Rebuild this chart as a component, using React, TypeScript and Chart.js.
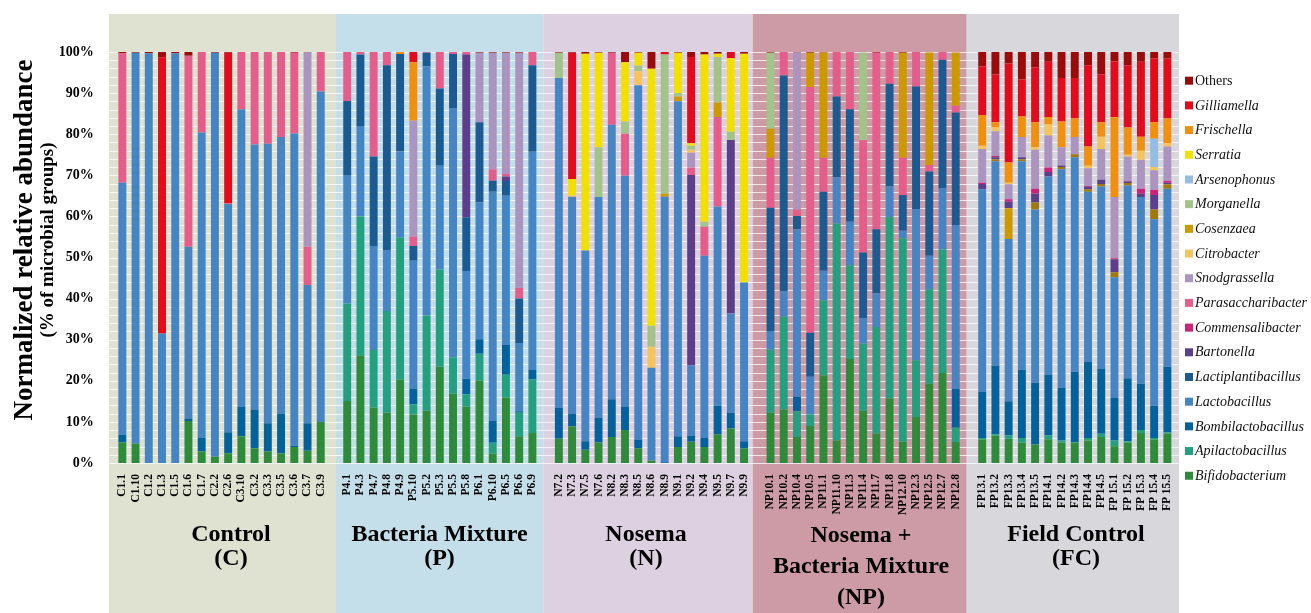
import React, { useEffect, useRef } from 'react';
import { Chart, registerables } from 'chart.js';

Chart.register(...registerables);

const SERIF = "'Liberation Serif', 'Times New Roman', serif";

// ---------- categories ----------
const controlSamples = ['C1.1', 'C1.10', 'C1.2', 'C1.3', 'C1.5', 'C1.6', 'C1.7', 'C2.2', 'C2.6', 'C3.10', 'C3.2', 'C3.3', 'C3.5', 'C3.6', 'C3.7', 'C3.9'];
const bacteriaSamples = ['P4.1', 'P4.3', 'P4.7', 'P4.8', 'P4.9', 'P5.10', 'P5.2', 'P5.3', 'P5.5', 'P5.8', 'P6.1', 'P6.10', 'P6.5', 'P6.6', 'P6.9'];
const nosemaSamples = ['N7.2', 'N7.3', 'N7.5', 'N7.6', 'N8.2', 'N8.3', 'N8.5', 'N8.6', 'N8.9', 'N9.1', 'N9.2', 'N9.4', 'N9.5', 'N9.7', 'N9.9'];
const npSamples = ['NP10.1', 'NP10.2', 'NP10.4', 'NP10.5', 'NP11.1', 'NP11.10', 'NP11.3', 'NP11.4', 'NP11.7', 'NP11.8', 'NP12.10', 'NP12.3', 'NP12.5', 'NP12.7', 'NP12.8'];
const fcSamples = ['FP13.1', 'FP13.2', 'FP13.3', 'FP13.4', 'FP13.5', 'FP14.1', 'FP14.2', 'FP14.3', 'FP14.4', 'FP14.5', 'FP 15.1', 'FP 15.2', 'FP 15.3', 'FP 15.4', 'FP 15.5'];

const groupTitles = [
  ['Control', '(C)'],
  ['Bacteria Mixture', '(P)'],
  ['Nosema', '(N)'],
  ['Nosema +', 'Bacteria Mixture', '(NP)'],
  ['Field Control', '(FC)'],
];

const yTicks = [0, 10, 20, 30, 40, 50, 60, 70, 80, 90, 100];

// ---------- series values (% per sample; order C | P | N | NP | FC) ----------
const bifidobacterium = [
  5.0, 4.7, 0, 0, 0, 10.2, 2.8, 1.5, 2.4, 6.5, 3.6, 2.8, 2.3, 3.9, 3.0, 10.0,
  15.1, 26.2, 13.5, 12.3, 20.3, 11.8, 12.7, 23.4, 16.9, 13.7, 20.1, 2.3, 15.9, 6.5, 7.3,
  5.9, 8.9, 3.2, 5.0, 6.3, 8.0, 3.6, 0.6, 0, 3.9, 5.2, 3.9, 7.0, 8.4, 3.5,
  12.2, 13.0, 6.3, 9.0, 21.3, 5.5, 25.3, 12.7, 7.1, 15.7, 5.2, 11.2, 19.3, 21.9, 5.1,
  5.7, 6.6, 5.9, 5.0, 4.5, 5.8, 5.0, 4.9, 5.5, 6.3, 4.1, 4.9, 7.3, 5.7, 7.1,
];
const apilactobacillus = [
  0, 0, 0, 0, 0, 0, 0, 0, 0, 0, 0, 0, 0, 0, 0, 0,
  23.7, 33.8, 14.0, 24.7, 34.6, 2.5, 23.2, 23.7, 8.8, 3.0, 6.5, 2.6, 5.6, 5.7, 13.0,
  0, 0, 0, 0, 0, 0, 0, 0, 0, 0, 0, 0, 0, 0, 0,
  15.4, 22.6, 6.3, 2.8, 18.3, 52.8, 22.8, 16.4, 26.0, 44.1, 49.5, 13.8, 23.0, 30.1, 3.5,
  0.4, 0.4, 0.8, 1.1, 0, 0.9, 0.5, 0.2, 0.6, 0.8, 1.4, 0.4, 0.7, 0.4, 0.3,
];
const bombilactobacillus = [
  1.8, 0, 0, 0, 0, 0.5, 3.4, 0, 5.1, 7.1, 9.4, 6.9, 9.6, 0.3, 6.7, 0,
  0, 0, 0, 0, 0, 3.8, 0, 0, 0, 3.8, 3.5, 5.3, 7.2, 0.4, 2.3,
  7.5, 3.1, 2.1, 6.0, 9.2, 5.6, 2.1, 0, 0.2, 2.6, 1.5, 2.2, 6.9, 3.8, 1.8,
  0, 0, 3.5, 0, 0, 0, 0, 0, 0, 0, 0, 0, 0, 0, 9.4,
  11.2, 16.7, 8.3, 16.6, 15.0, 14.8, 12.9, 17.1, 18.5, 15.9, 10.3, 15.3, 11.3, 7.8, 16.0,
];
const lactobacillus = [
  61.4, 95.1, 99.7, 31.5, 99.7, 41.9, 74.2, 98.3, 55.5, 72.5, 64.5, 68.0, 67.4, 76.0, 33.6, 80.4,
  31.3, 22.0, 25.3, 14.8, 20.9, 31.1, 60.6, 25.2, 60.7, 26.2, 33.3, 55.8, 36.3, 16.6, 53.1,
  80.3, 52.8, 46.4, 53.7, 66.8, 56.3, 86.2, 22.6, 64.6, 81.5, 17.1, 44.3, 48.5, 24.2, 38.6,
  4.5, 6.2, 40.8, 9.2, 7.2, 11.2, 10.6, 6.2, 8.2, 7.5, 1.8, 36.8, 8.1, 14.9, 39.9,
  49.3, 49.7, 39.5, 50.7, 42.2, 48.2, 53.1, 52.2, 41.4, 44.3, 29.4, 46.9, 45.4, 45.4, 43.3,
];
const lactiplantibacillus = [
  0, 0, 0, 0, 0, 0, 0, 0, 0, 0, 0, 0, 0, 0, 0, 0,
  18.0, 17.4, 21.8, 45.0, 23.7, 3.6, 3.3, 18.8, 13.1, 13.1, 19.5, 2.7, 3.6, 10.8, 21.1,
  0, 0, 0, 0, 0, 0, 0, 0, 0, 0, 0, 0, 0, 0, 0,
  30.0, 52.5, 3.2, 10.7, 19.2, 19.7, 27.4, 15.9, 15.6, 25.0, 8.7, 29.8, 20.5, 31.2, 27.4,
  0, 0, 0, 0, 0, 0, 0, 0, 0, 0, 0, 0, 0, 0, 0,
];
// Cosenzaea-coloured segment that the Field Control panel stacks right above Lactobacillus
const cosenzaeaFC = [
  0, 0, 0, 0, 0, 0, 0, 0, 0, 0, 0, 0, 0, 0, 0, 0,
  0, 0, 0, 0, 0, 0, 0, 0, 0, 0, 0, 0, 0, 0, 0,
  0, 0, 0, 0, 0, 0, 0, 0, 0, 0, 0, 0, 0, 0, 0,
  0, 0, 0, 0, 0, 0, 0, 0, 0, 0, 0, 0, 0, 0, 0,
  0, 0.5, 7.5, 0.5, 1.7, 0, 0.5, 0.7, 0.6, 0.6, 1.2, 0.6, 0, 2.4, 1.1,
];
const bartonella = [
  0, 0, 0, 0, 0, 0, 0, 0, 0, 0, 0, 0, 0, 0, 0, 0,
  0, 0, 0, 0, 0, 0, 0, 0, 0, 39.6, 0, 0, 1.1, 0, 0,
  0, 0, 0, 0, 0, 0, 0, 0, 0, 0, 46.3, 0, 0, 42.2, 0,
  0, 0, 0, 0, 0, 0, 0, 0, 0, 0, 0, 0, 0, 0, 0,
  1.3, 0.5, 1.6, 0.5, 2.2, 1.1, 0.4, 0, 0.6, 1.0, 3.2, 0.4, 0.8, 3.5, 0.4,
];
const commensalibacter = [
  0, 0, 0, 0, 0, 0, 0, 0, 0, 0, 0, 0, 0, 0, 0, 0,
  0, 0, 0, 0, 0, 0, 0, 0, 0, 0, 0, 0, 0, 0, 0,
  0, 0, 0, 0, 0, 0, 0, 0, 0, 0, 0, 0, 0, 0, 0,
  0, 0, 0, 0, 0, 0, 0, 0, 0, 0, 0, 0, 0, 0, 0,
  0.3, 0.3, 0.6, 0, 1.1, 1.1, 0, 0, 0.2, 0, 0.2, 0.2, 1.2, 1.2, 0.4,
];
const parasaccharibacter = [
  31.5, 0, 0, 0, 0, 46.5, 19.6, 0, 0.2, 13.9, 22.5, 22.3, 20.7, 19.6, 9.3, 9.6,
  11.9, 0.6, 25.4, 3.2, 0, 2.3, 0.2, 8.9, 0.5, 0.6, 0, 2.8, 0.6, 2.6, 3.2,
  0, 0, 0, 0, 17.5, 10.2, 0, 0, 0, 0, 1.8, 7.1, 21.8, 0, 0,
  12.2, 5.7, 1.5, 59.8, 8.3, 10.8, 13.9, 27.3, 42.9, 7.7, 9.1, 8.4, 1.6, 1.9, 1.6,
  0, 0, 0, 0, 0, 0, 0, 0, 0, 0, 0, 0, 0, 0, 0,
];
const snodgrassella = [
  0, 0, 0, 0, 0, 0, 0, 0, 0, 0, 0, 0, 0, 0, 47.3, 0,
  0, 0, 0, 0, 0, 28.2, 0, 0, 0, 0, 16.9, 28.3, 29.5, 57.2, 0,
  0, 0, 0, 0, 0, 0, 0, 0, 0, 0, 3.6, 0, 0, 0, 0,
  0, 0, 38.3, 0, 0, 0, 0, 0, 0, 0, 0, 0, 0, 0, 0,
  8.2, 6.0, 3.6, 4.9, 9.5, 7.8, 4.4, 4.2, 4.3, 7.5, 14.9, 5.9, 7.1, 4.8, 8.4,
];
const citrobacter = [
  0, 0, 0, 0, 0, 0, 0, 0, 0, 0, 0, 0, 0, 0, 0, 0,
  0, 0, 0, 0, 0, 0, 0, 0, 0, 0, 0, 0, 0, 0, 0,
  0, 0.3, 0, 0, 0, 0, 3.4, 5.1, 0, 0, 0.7, 0, 0, 0, 0,
  0, 0, 0, 0, 0, 0, 0, 0, 0, 0, 0, 0, 0, 0, 0,
  0.8, 0.9, 0.4, 0, 0.6, 2.8, 0, 0, 0.6, 3.0, 0, 0.4, 2.2, 0.8, 0.8,
];
const cosenzaea = [
  0, 0, 0, 0, 0, 0, 0, 0, 0, 0, 0, 0, 0, 0, 0, 0,
  0, 0, 0, 0, 0, 0, 0, 0, 0, 0, 0, 0, 0, 0, 0,
  0, 0, 0, 0, 0, 0, 0, 0, 0.7, 1.2, 0, 0, 3.5, 0, 0,
  7.0, 0, 0, 8.3, 25.6, 0, 0, 0, 0, 0, 25.5, 0, 27.4, 0, 13.0,
  0, 0, 0, 0, 0, 0, 0, 0, 0, 0, 0, 0, 0, 0, 0,
];
const morganella = [
  0, 0, 0, 0, 0, 0, 0, 0, 0, 0, 0, 0, 0, 0, 0, 0,
  0, 0, 0, 0, 0, 0, 0, 0, 0, 0, 0, 0, 0, 0, 0,
  6.1, 0, 0, 12.1, 0, 3.0, 1.4, 5.1, 33.9, 0.8, 1.0, 1.2, 11.1, 2.0, 0,
  18.5, 0, 0, 0, 0, 0, 0, 21.4, 0, 0, 0, 0, 0, 0, 0,
  0, 0, 0, 0, 0, 0, 0, 0, 0, 0, 0, 0, 0, 0, 0,
];
const arsenophonus = [
  0, 0, 0, 0, 0, 0, 0, 0, 0, 0, 0, 0, 0, 0, 0, 0,
  0, 0, 0, 0, 0, 0, 0, 0, 0, 0, 0, 0, 0, 0, 0,
  0, 0, 0, 0, 0, 0, 0, 0, 0, 0, 0, 0, 0, 0, 0,
  0, 0, 0, 0, 0, 0, 0, 0, 0, 0, 0, 0, 0, 0, 0,
  0, 0, 0, 0, 0, 0, 0, 0, 0, 0, 0, 0, 0, 6.9, 0,
];
const serratia = [
  0, 0, 0, 0, 0, 0, 0, 0, 0, 0, 0, 0, 0, 0, 0, 0,
  0, 0, 0, 0, 0, 0, 0, 0, 0, 0, 0, 0, 0, 0, 0,
  0, 4.0, 47.9, 23.0, 0, 14.4, 3.1, 62.5, 0, 9.8, 0.6, 40.7, 0.8, 17.9, 55.7,
  0, 0, 0, 0, 0, 0, 0, 0, 0, 0, 0, 0, 0, 0, 0,
  0, 0, 0, 0, 0, 0, 0, 0, 0, 0, 0, 0, 0, 0, 0,
];
const frischella = [
  0, 0, 0, 0, 0, 0, 0, 0, 0, 0, 0, 0, 0, 0, 0, 0,
  0, 0, 0, 0, 0.5, 14.2, 0, 0, 0, 0, 0, 0, 0, 0, 0,
  0, 0, 0, 0, 0, 0, 0, 0, 0, 0, 0, 0, 0, 0, 0,
  0, 0, 0, 0, 0, 0, 0, 0, 0, 0, 0, 0, 0, 0, 0,
  7.5, 1.3, 4.9, 5.0, 6.1, 1.7, 6.3, 4.5, 4.7, 3.5, 19.4, 6.6, 3.4, 4.0, 6.0,
];
const gilliamella = [
  0, 0, 0, 67.2, 0, 0, 0, 0, 36.6, 0, 0, 0, 0, 0, 0, 0,
  0, 0, 0, 0, 0, 2.5, 0, 0, 0, 0, 0, 0, 0, 0, 0,
  0, 30.7, 0, 0, 0, 0, 0, 0, 0.6, 0, 21.0, 0, 0, 1.5, 0,
  0, 0, 0, 0, 0, 0, 0, 0, 0, 0, 0, 0, 0, 0, 0,
  11.8, 11.6, 24.1, 9.0, 13.4, 13.4, 10.6, 9.9, 19.8, 11.7, 13.6, 15.2, 18.2, 15.6, 14.6,
];
const others = [
  0.3, 0.2, 0.3, 1.3, 0.3, 0.9, 0, 0.2, 0.2, 0, 0, 0, 0, 0.2, 0.1, 0,
  0, 0, 0, 0, 0, 0, 0, 0, 0, 0, 0.2, 0.2, 0.2, 0.2, 0,
  0.2, 0.2, 0.4, 0.2, 0.2, 2.5, 0.2, 4.1, 0, 0.2, 1.2, 0.6, 0.4, 0, 0.4,
  0.2, 0, 0.1, 0.2, 0.1, 0, 0, 0, 0.2, 0, 0.2, 0, 0, 0, 0,
  3.5, 5.5, 2.8, 6.7, 3.7, 2.4, 6.3, 6.3, 3.2, 5.4, 2.3, 3.2, 2.4, 1.5, 1.6,
];

// ---------- styling ----------
const groupSizes = [controlSamples.length, bacteriaSamples.length, nosemaSamples.length, npSamples.length, fcSamples.length];
const groupBounds = [109, 336, 543.3, 752.7, 966.7, 1179];
const groupColors = ['#dfe1d1', '#c5dfea', '#ddd0e1', '#cd9ba6', '#d8d8dc'];
const groupTitleX = [231, 439.5, 646, 861, 1076];
const groupTitleY = [[541, 565], [541, 565], [541, 565], [542, 573, 604], [541, 565]];

// insert an empty category between the treatment groups
function withGaps<T>(values: T[], gap: T): T[] {
  const out: T[] = [];
  let k = 0;
  groupSizes.forEach((n, g) => {
    if (g > 0) out.push(gap);
    for (let i = 0; i < n; i++) out.push(values[k++]);
  });
  return out;
}

const labels = withGaps([...controlSamples, ...bacteriaSamples, ...nosemaSamples, ...npSamples, ...fcSamples], '');

type Series = { label: string; data: number[]; color: any; legend: boolean; italic: boolean };
const series: Series[] = [
  { label: 'Bifidobacterium', data: bifidobacterium, color: '#2e8b3b', legend: true, italic: true },
  { label: 'Apilactobacillus', data: apilactobacillus, color: '#23a07f', legend: true, italic: true },
  { label: 'Bombilactobacillus', data: bombilactobacillus, color: '#03629c', legend: true, italic: true },
  { label: 'Lactobacillus', data: lactobacillus, color: '#4585c4', legend: true, italic: true },
  { label: 'Lactiplantibacillus', data: lactiplantibacillus, color: '#1c5a92', legend: true, italic: true },
  { label: 'Cosenzaea', data: cosenzaeaFC, color: (c: any) => (c.raw > 5 ? '#cc9900' : '#9c7a0e'), legend: false, italic: true },
  { label: 'Bartonella', data: bartonella, color: '#5c3f8a', legend: true, italic: true },
  { label: 'Commensalibacter', data: commensalibacter, color: '#cc2277', legend: true, italic: true },
  { label: 'Parasaccharibacter', data: parasaccharibacter, color: '#e45d8b', legend: true, italic: true },
  { label: 'Snodgrassella', data: snodgrassella, color: '#ab94bf', legend: true, italic: true },
  { label: 'Citrobacter', data: citrobacter, color: '#f6c45c', legend: true, italic: true },
  { label: 'Cosenzaea', data: cosenzaea, color: '#cc9900', legend: true, italic: true },
  { label: 'Morganella', data: morganella, color: '#a2c48a', legend: true, italic: true },
  { label: 'Arsenophonus', data: arsenophonus, color: '#95bde3', legend: true, italic: true },
  { label: 'Serratia', data: serratia, color: '#f2e100', legend: true, italic: true },
  { label: 'Frischella', data: frischella, color: '#f0900e', legend: true, italic: true },
  { label: 'Gilliamella', data: gilliamella, color: '#e30b1c', legend: true, italic: true },
  { label: 'Others', data: others, color: '#9b0b0b', legend: true, italic: false },
];

const decorPlugin = {
  id: 'decor',
  beforeDraw(chart: any) {
    const { ctx } = chart;
    const y = chart.scales.y;
    ctx.save();
    ctx.fillStyle = '#ffffff';
    ctx.fillRect(0, 0, chart.width, chart.height);

    // group panels
    groupColors.forEach((c, i) => {
      ctx.fillStyle = c;
      ctx.fillRect(groupBounds[i], 14, groupBounds[i + 1] - groupBounds[i], chart.height - 14);
    });

    // fine white gridlines every 2 %
    ctx.strokeStyle = 'rgba(255,255,255,0.75)';
    ctx.lineWidth = 1;
    for (let v = 0; v <= 100; v += 2) {
      const py = Math.round(y.getPixelForValue(v)) + 0.5;
      ctx.beginPath();
      ctx.moveTo(groupBounds[0], py);
      ctx.lineTo(groupBounds[groupBounds.length - 1], py);
      ctx.stroke();
    }

    // group titles
    ctx.fillStyle = '#000';
    ctx.textAlign = 'center';
    ctx.textBaseline = 'alphabetic';
    ctx.font = `bold 24px ${SERIF}`;
    groupTitles.forEach((lines, g) => {
      lines.forEach((t, j) => ctx.fillText(t, groupTitleX[g], groupTitleY[g][j]));
    });

    // y-axis title
    ctx.save();
    ctx.translate(25, 240);
    ctx.rotate(-Math.PI / 2);
    ctx.textBaseline = 'middle';
    ctx.font = `bold 27px ${SERIF}`;
    ctx.fillText('Normalized relative abundance', 0, 0);
    ctx.restore();
    ctx.save();
    ctx.translate(48, 240);
    ctx.rotate(-Math.PI / 2);
    ctx.textBaseline = 'middle';
    ctx.font = `bold 19px ${SERIF}`;
    ctx.fillText('(% of microbial groups)', 0, 0);
    ctx.restore();

    // legend (top item = top of stack)
    const items = series.filter((s) => s.legend).reverse();
    ctx.textAlign = 'left';
    ctx.textBaseline = 'middle';
    items.forEach((s, i) => {
      const cy = 80.7 + i * 24.69;
      ctx.fillStyle = s.color;
      ctx.fillRect(1185, cy - 4, 8, 8);
      ctx.fillStyle = '#111';
      ctx.font = `${s.italic ? 'italic ' : ''}14px ${SERIF}`;
      ctx.fillText(s.label, 1195, cy + 0.5);
    });
    ctx.restore();
  },
};

export default function App() {
  const ref = useRef<HTMLCanvasElement | null>(null);
  useEffect(() => {
    if (!ref.current) return;
    const chart = new Chart(ref.current, {
      type: 'bar',
      data: {
        labels,
        datasets: series.map((s) => ({
          label: s.label,
          data: withGaps<number | null>(s.data, null),
          backgroundColor: s.color,
          borderWidth: 0,
          barPercentage: 0.6,
          categoryPercentage: 1,
        })),
      },
      options: {
        responsive: false,
        animation: false,
        devicePixelRatio: 1,
        layout: { padding: { top: 52, right: 137, left: 0, bottom: 0 } },
        plugins: { legend: { display: false }, tooltip: { enabled: false }, title: { display: false } },
        scales: {
          x: {
            type: 'category',
            stacked: true,
            offset: true,
            grid: { display: false },
            border: { display: false },
            ticks: {
              autoSkip: false,
              minRotation: 90,
              maxRotation: 90,
              padding: 3,
              color: '#000',
              font: { family: SERIF, size: 11.5, weight: 'bold' },
            },
            afterFit: (s: any) => {
              s.height = 150;
            },
          },
          y: {
            stacked: true,
            min: 0,
            max: 100,
            grid: { display: false },
            border: { display: false },
            afterBuildTicks: (s: any) => {
              s.ticks = yTicks.map((v) => ({ value: v }));
            },
            ticks: {
              padding: 14,
              color: '#000',
              font: { family: SERIF, size: 14, weight: 'bold' },
              callback: (v: any) => `${v}%`,
            },
            afterFit: (s: any) => {
              s.width = 115.7;
            },
          },
        },
      },
      plugins: [decorPlugin],
    } as any);
    return () => chart.destroy();
  }, []);
  return (
    <div style={{ position: 'absolute', left: 0, top: 0, width: 1311, height: 613 }}>
      <canvas ref={ref} width={1311} height={613} style={{ display: 'block', width: 1311, height: 613 }} />
    </div>
  );
}
